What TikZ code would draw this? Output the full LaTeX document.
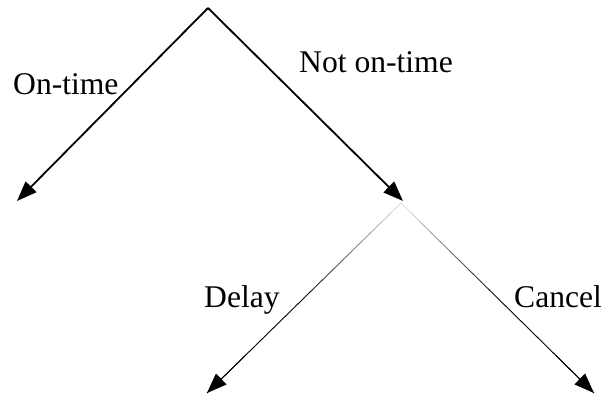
\documentclass[tikz,border=0pt]{standalone}
\usepackage{fontspec}
\setmainfont{Liberation Serif}
\usetikzlibrary{arrows.meta,calc}
\tikzset{
  lbl/.style={anchor=base west, inner sep=0pt, font=\fontsize{31.6}{36}\selectfont},
  thick arrow/.style={line width=1.8pt, -{Triangle[length=20pt,width=15pt]}},
  thin tip/.style={line width=0.9pt, -{Triangle[length=20pt,width=15pt]}},
}
\begin{document}
\begin{tikzpicture}[x=1pt,y=-1pt]
\useasboundingbox (0,0) rectangle (608,398);
\coordinate (top) at (208,8);
\coordinate (L) at (17,201);
\coordinate (R) at (403,201);
\coordinate (split) at (401,203);
\coordinate (DL) at (207,393);
\coordinate (DR) at (594,393);
\draw[thick arrow] (top) -- (L);
\draw[thick arrow] (top) -- (R);
% fading thin lines
\foreach \i in {0,1,...,19}{
  \pgfmathsetmacro{\a}{\i/20}
  \pgfmathsetmacro{\b}{(\i+1)/20}
  \pgfmathsetmacro{\c}{min(100,12+\i*9)}
  \draw[line width=0.9pt, black!\c] ($(split)!\a!(DL)$) -- ($(split)!\b!(DL)$);
  \draw[line width=0.9pt, black!\c] ($(split)!\a!(DR)$) -- ($(split)!\b!(DR)$);
}
\draw[thin tip] ($(split)!0.8!(DL)$) -- (DL);
\draw[thin tip] ($(split)!0.8!(DR)$) -- (DR);
\node[lbl] (ontime) at (13,95) {On-time};
\node[lbl] (noton) at (299,73) {Not on-time};
\node[lbl] (delay) at (204,308) {Delay};
\node[lbl] (cancel) at (514,308) {Cancel};
\end{tikzpicture}
\end{document}
